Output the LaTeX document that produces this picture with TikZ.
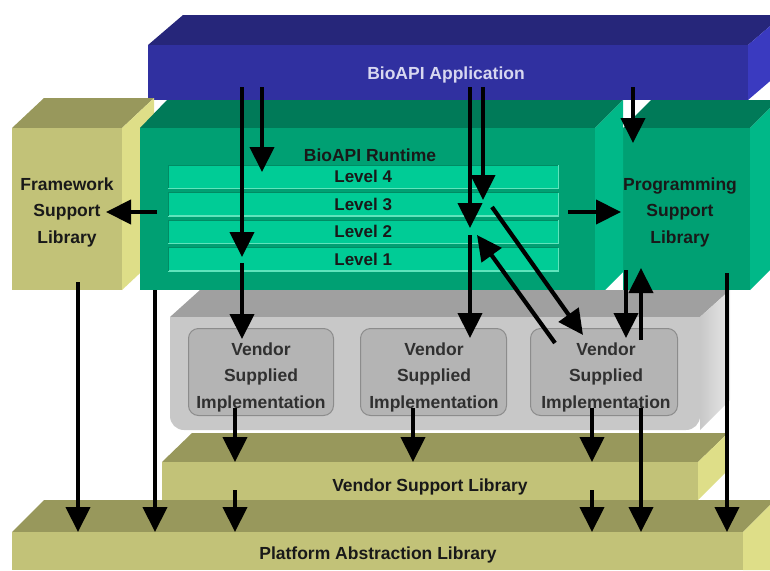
\documentclass[tikz,border=0pt]{standalone}
\usepackage{fontspec}
\setmainfont{Liberation Sans}
\usetikzlibrary{arrows.meta}

\definecolor{blueTop}{RGB}{38,38,122}
\definecolor{blueFront}{RGB}{48,48,160}
\definecolor{blueSide}{RGB}{58,58,192}
\definecolor{appText}{RGB}{215,215,240}
\definecolor{grnTop}{RGB}{0,122,88}
\definecolor{grnFront}{RGB}{0,160,115}
\definecolor{grnSide}{RGB}{0,184,136}
\definecolor{grnLevel}{RGB}{0,204,150}
\definecolor{grnEdge}{RGB}{95,228,188}
\definecolor{grnDark}{RGB}{0,140,100}
\definecolor{olvTop}{RGB}{152,152,92}
\definecolor{olvFront}{RGB}{194,194,120}
\definecolor{olvSide}{RGB}{222,222,136}
\definecolor{gryTop}{RGB}{160,160,160}
\definecolor{gryFront}{RGB}{200,200,200}
\definecolor{grySide}{RGB}{222,222,222}
\definecolor{vsiFill}{RGB}{180,180,180}
\definecolor{vsiLine}{RGB}{140,140,140}
\definecolor{ink}{RGB}{25,25,25}

\begin{document}
\begin{tikzpicture}[x=1pt,y=-1pt,
  front/.style={rectangle, draw=none, inner sep=0pt, anchor=north west},
  lbl/.style={font=\bfseries\fontsize{17.5}{26.5}\selectfont, text=ink, align=center, inner sep=0pt},
  levelbar/.style={rectangle, fill=grnLevel, minimum width=390pt, minimum height=23pt,
    inner sep=0pt, anchor=north west, text=ink, font=\bfseries\fontsize{17}{19}\selectfont},
  vsibox/.style={rectangle, rounded corners=10pt, fill=vsiFill, draw=vsiLine, line width=1pt,
    minimum height=87pt, anchor=north west, inner sep=0pt},
  arr/.style={line width=4.2pt, -{Triangle[length=25pt,width=24pt]}, black},
]
\useasboundingbox (0,0) rectangle (770,570);

% ---- BioAPI Application slab ----
\fill[blueTop] (148,45) -- (183,15) -- (783,15) -- (748,45) -- cycle;
\fill[blueSide] (748,45) -- (783,15) -- (783,70) -- (748,100) -- cycle;
\node[front, fill=blueFront, minimum width=600pt, minimum height=55pt] (app) at (148,45) {};
\node[lbl, text=appText] (appL) at (446,75) {BioAPI Application};

% ---- Framework Support Library block ----
\fill[olvTop] (12,128) -- (44,98) -- (154,98) -- (122,128) -- cycle;
\fill[olvSide] (122,128) -- (154,98) -- (154,260) -- (122,290) -- cycle;
\node[front, fill=olvFront, minimum width=110pt, minimum height=162pt] (fsl) at (12,128) {};
\node[lbl] (fslL) at (67,212) {Framework\\Support\\Library};

% ---- Programming Support Library block ----
\fill[grnTop] (623,128) -- (651,100) -- (778,100) -- (750,128) -- cycle;
\fill[grnSide] (750,128) -- (778,100) -- (778,262) -- (750,290) -- cycle;
\node[front, fill=grnFront, minimum width=127pt, minimum height=162pt] (psl) at (623,128) {};
\node[lbl] (pslL) at (680,212) {Programming\\Support\\Library};

% ---- BioAPI Runtime block ----
\fill[grnTop] (140,128) -- (167,100) -- (623,100) -- (595,128) -- cycle;
\fill[grnSide] (595,128) -- (623,100) -- (623,272) -- (605,290) -- (595,290) -- cycle;
\node[front, fill=grnFront, minimum width=455pt, minimum height=162pt] (rt) at (140,128) {};
\node[lbl] (rtL) at (370,155) {BioAPI Runtime};

\node[levelbar] (l4) at (168,165) {Level 4};
\node[levelbar] (l3) at (168,192.5) {Level 3};
\node[levelbar] (l2) at (168,220) {Level 2};
\node[levelbar] (l1) at (168,247.5) {Level 1};
\foreach \l in {l4,l3,l2,l1}{
  \draw[grnEdge, line width=1.6pt] (\l.south west) -- (\l.south east) -- (\l.north east);
  \draw[grnDark, line width=0.8pt] (\l.south west) -- (\l.north west) -- (\l.north east);
}

% ---- Vendor implementation tray ----
\fill[gryTop] (170,317) -- (200,290) -- (730,290) -- (700,317) -- cycle;
\shade[left color=gryFront, right color=grySide!70!white]
  (700,317) -- (730,290) -- (730,400) -- (700,430) -- cycle;
\fill[gryFront, rounded corners=14pt] (170,317) rectangle (700,430);
\fill[gryFront] (170,317) rectangle (700,340);
\node[front, minimum width=530pt, minimum height=113pt] (tray) at (170,317) {};

\node[vsibox, minimum width=145pt] (v1) at (188,328) {};
\node[vsibox, minimum width=146pt] (v2) at (360,328) {};
\node[vsibox, minimum width=147pt] (v3) at (530,328) {};
\node[lbl, text=ink!90] (v1L) at (261,377) {Vendor\\Supplied\\Implementation};
\node[lbl, text=ink!90] (v2L) at (434,377) {Vendor\\Supplied\\Implementation};
\node[lbl, text=ink!90] (v3L) at (606,377) {Vendor\\Supplied\\Implementation};

% ---- Vendor Support Library slab ----
\fill[olvTop] (162,462) -- (192,433) -- (728,433) -- (698,462) -- cycle;
\fill[olvSide] (698,462) -- (728,433) -- (728,470) -- (698,500) -- cycle;
\node[front, fill=olvFront, minimum width=536pt, minimum height=38pt] (vsl) at (162,462) {};
\node[lbl] (vslL) at (430,487) {Vendor Support Library};

% ---- Platform Abstraction Library slab ----
\fill[olvTop] (12,532) -- (44,500) -- (775,500) -- (743,532) -- cycle;
\fill[olvSide] (743,532) -- (775,500) -- (775,570) -- (743,570) -- cycle;
\node[front, fill=olvFront, minimum width=731pt, minimum height=38pt] (pal) at (12,532) {};
\node[lbl] (palL) at (378,555) {Platform Abstraction Library};

% ---- connector end points ----
\coordinate (a1s) at (242,87);  \coordinate (a1e) at (242,257);
\coordinate (b1s) at (242,263); \coordinate (b1e) at (242,339);
\coordinate (a2s) at (262,87);  \coordinate (a2e) at (262,172);
\coordinate (fs)  at (157,212); \coordinate (fe)  at (106,212);
\coordinate (a4s) at (470,87);  \coordinate (a4e) at (470,228);
\coordinate (b4s) at (470,235); \coordinate (b4e) at (470,338);
\coordinate (a5s) at (483,87);  \coordinate (a5e) at (483,200);
\coordinate (d1s) at (492,207); \coordinate (d1e) at (583,335);
\coordinate (d2s) at (555,343); \coordinate (d2e) at (477,235);
\coordinate (ps)  at (568,212); \coordinate (pe)  at (621,212);
\coordinate (a9s) at (633,87);  \coordinate (a9e) at (633,143);
\coordinate (q1s) at (626,270); \coordinate (q1e) at (626,338);
\coordinate (q2s) at (641,340); \coordinate (q2e) at (641,268);
\coordinate (q3s) at (641,408); \coordinate (q3e) at (641,532);
\coordinate (q4s) at (727,273); \coordinate (q4e) at (727,532);
\coordinate (f1s) at (78,282);  \coordinate (f1e) at (78,532);
\coordinate (r1s) at (155,290); \coordinate (r1e) at (155,532);
\coordinate (w1s) at (235,408); \coordinate (w1e) at (235,462);
\coordinate (x1s) at (235,490); \coordinate (x1e) at (235,532);
\coordinate (w2s) at (413,408); \coordinate (w2e) at (413,462);
\coordinate (w3s) at (592,408); \coordinate (w3e) at (592,462);
\coordinate (x3s) at (592,490); \coordinate (x3e) at (592,532);

% ---- connectors ----
\foreach \s/\e in {a1s/a1e, b1s/b1e, a2s/a2e, fs/fe, a4s/a4e, b4s/b4e, a5s/a5e,
                   d1s/d1e, d2s/d2e, ps/pe, a9s/a9e, q1s/q1e, q2s/q2e, q3s/q3e,
                   q4s/q4e, f1s/f1e, r1s/r1e, w1s/w1e, x1s/x1e, w2s/w2e,
                   w3s/w3e, x3s/x3e}
  \draw[arr] (\s) -- (\e);
\end{tikzpicture}
\end{document}
